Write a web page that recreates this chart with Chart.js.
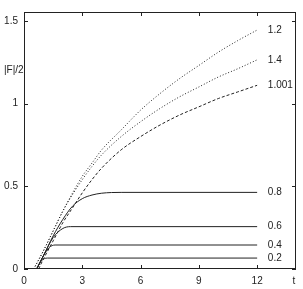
<!DOCTYPE html>
<html>
<head>
<meta charset="utf-8">
<script src="https://cdn.jsdelivr.net/npm/chart.js@4/dist/chart.umd.min.js"></script>
<style>
  html, body { margin: 0; padding: 0; background: #fff; }
  #wrap { width: 303px; height: 289px; }
</style>
</head>
<body>
<div id="wrap"><canvas id="fChart"></canvas></div>
<script>
// curve labels (parameter values)
const labels = ["1.2", "1.4", "1.001", "0.8", "0.6", "0.4", "0.2"];

// time samples and |F|/2 values, one pair per curve
const t12 = [0.5, 1, 1.5, 2, 2.5, 3, 3.5, 4, 5, 6, 7, 8, 9, 10, 11, 12];
const f12 = [0, 0.11, 0.23, 0.35, 0.46, 0.56, 0.64, 0.72, 0.84, 0.96, 1.06, 1.15, 1.23, 1.31, 1.38, 1.444];
const t14 = [0.5, 1, 1.5, 2, 2.5, 3, 3.5, 4, 5, 6, 7, 8, 9, 10, 11, 12];
const f14 = [0, 0.11, 0.23, 0.35, 0.45, 0.54, 0.62, 0.69, 0.80, 0.89, 0.97, 1.04, 1.10, 1.16, 1.21, 1.264];
const t1001 = [0.75, 1, 1.5, 2, 2.5, 3, 3.5, 4, 5, 6, 7, 8, 9, 10, 11, 12];
const f1001 = [0, 0.06, 0.17, 0.28, 0.37, 0.46, 0.54, 0.61, 0.72, 0.80, 0.87, 0.93, 0.98, 1.03, 1.07, 1.11];
const t08 = [0.65, 1, 1.5, 2, 2.5, 3, 3.5, 4, 4.5, 5, 12];
const f08 = [0, 0.08, 0.2, 0.3, 0.38, 0.425, 0.447, 0.458, 0.462, 0.463, 0.463];
const t06 = [0.65, 1, 1.5, 2, 2.4, 12];
const f06 = [0, 0.08, 0.19, 0.245, 0.256, 0.256];
const t04 = [0.65, 1, 1.3, 1.6, 12];
const f04 = [0, 0.08, 0.13, 0.145, 0.145];
const t02 = [0.65, 0.9, 1.2, 12];
const f02 = [0, 0.05, 0.066, 0.066];

const xTicks = [0, 3, 6, 9, 12];
const yTicks = [0, 0.5, 1, 1.5];

const series = [[t12, f12], [t14, f14], [t1001, f1001], [t08, f08], [t06, f06], [t04, f04], [t02, f02]];
const dashes = [[1, 2], [1, 2], [3, 2], [], [], [], []];

function pts(t, f) {
  return t.map((v, i) => ({ x: v, y: f[i] }));
}

const datasets = series.map((s, i) => ({
  label: labels[i],
  data: pts(s[0], s[1]),
  borderColor: "#222",
  borderWidth: 1,
  borderDash: dashes[i],
  pointRadius: 0,
  fill: false,
  cubicInterpolationMode: "monotone",
}));

const font = { family: "'Liberation Sans', Arial, sans-serif", size: 10 };

// frame, inward ticks, curve labels and axis titles
const decor = {
  id: "decor",
  afterDraw(chart) {
    const c = chart.ctx;
    const a = chart.chartArea;
    const xs = chart.scales.x, ys = chart.scales.y;
    c.save();
    c.strokeStyle = "#222";
    c.lineWidth = 1;
    c.strokeRect(a.left + 0.5, a.top + 0.5, a.right - a.left - 1, a.bottom - a.top - 1);
    c.beginPath();
    xTicks.forEach(v => {
      const px = Math.round(xs.getPixelForValue(v)) + 0.5;
      c.moveTo(px, a.bottom); c.lineTo(px, a.bottom - 4);
      c.moveTo(px, a.top); c.lineTo(px, a.top + 4);
    });
    yTicks.forEach(v => {
      const py = Math.round(ys.getPixelForValue(v)) + 0.5;
      c.moveTo(a.left, py); c.lineTo(a.left + 4, py);
      c.moveTo(a.right, py); c.lineTo(a.right - 4, py);
    });
    c.stroke();

    c.fillStyle = "#222";
    c.font = font.size + "px " + font.family;
    c.textBaseline = "middle";
    c.textAlign = "left";
    series.forEach((s, i) => {
      const last = s[1][s[1].length - 1];
      c.fillText(labels[i], xs.getPixelForValue(12.55), ys.getPixelForValue(last));
    });
    c.fillText("|F|/2", 4, ys.getPixelForValue(1.2));
    c.textAlign = "center";
    c.fillText("t", a.right - 2, a.bottom + 12);
    c.restore();
  }
};

const config = {
  type: "line",
  data: { datasets: datasets },
  options: {
    responsive: true,
    maintainAspectRatio: false,
    animation: false,
    layout: { padding: { top: 4, right: 7, left: 0, bottom: 0 } },
    plugins: { legend: { display: false }, tooltip: { enabled: false } },
    scales: {
      x: {
        type: "linear",
        min: 0,
        max: 14,
        afterBuildTicks: s => { s.ticks = xTicks.map(v => ({ value: v })); },
        afterFit: s => { s.height = 20; },
        grid: { display: false, drawTicks: false },
        border: { display: false },
        ticks: { color: "#222", font: font, padding: 6, maxRotation: 0, callback: v => String(v) },
      },
      y: {
        type: "linear",
        min: 0,
        max: 1.553,
        afterBuildTicks: s => { s.ticks = yTicks.map(v => ({ value: v })); },
        afterFit: s => { s.width = 24; },
        grid: { display: false, drawTicks: false },
        border: { display: false },
        ticks: { color: "#222", font: font, padding: 6, callback: v => String(v) },
      },
    },
  },
  plugins: [decor],
};

const ctx = document.getElementById("fChart").getContext("2d");
new Chart(ctx, config);
</script>
</body>
</html>
